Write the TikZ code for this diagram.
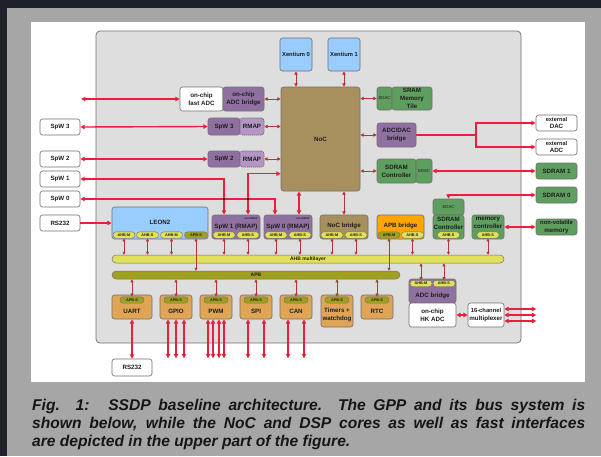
\documentclass[tikz,border=0pt]{standalone}
\usepackage{fontspec}
\setmainfont{Liberation Sans}
\usetikzlibrary{arrows.meta,calc}

\definecolor{bggray}{HTML}{A6A6A6}
\definecolor{darkedge}{HTML}{1E2128}
\definecolor{socfill}{HTML}{DEDEDE}
\definecolor{bdr}{HTML}{707070}
\definecolor{txt}{HTML}{1E1E1E}
\definecolor{xblue}{HTML}{99CCFF}
\definecolor{noctan}{HTML}{A8905E}
\definecolor{memgreen}{HTML}{5E9E5E}
\definecolor{bpurple}{HTML}{9070A0}
\definecolor{rmappurple}{HTML}{B496C4}
\definecolor{perorange}{HTML}{E0A455}
\definecolor{apborange}{HTML}{FFA500}
\definecolor{pillyel}{HTML}{E0E05A}
\definecolor{olive}{HTML}{A0A020}
\definecolor{extred}{HTML}{E8203C}
\definecolor{intred}{HTML}{B03838}
\definecolor{captxt}{HTML}{161616}

\newcommand\lblfont{\fontsize{6.2}{7.8}\selectfont\bfseries}
\newcommand\pillfont{\fontsize{3.8}{4}\selectfont\bfseries}
\newcommand\edacfont{\fontsize{4.3}{5}\selectfont}
\newcommand\tinyfont{\fontsize{2.6}{3}\selectfont\bfseries}
\newcommand\capfont{\fontsize{15.6}{18}\selectfont\bfseries\itshape}

% block from corner (x1,y1) to (x2,y2)
\newcommand\blockat[7]{%
  \pgfmathsetmacro\bxw{#4-#2}\pgfmathsetmacro\bxh{#5-#3}%
  \node[#6, minimum width=\bxw pt, minimum height=\bxh pt] (#1) at ({(#2+#4)/2},{(#3+#5)/2}) {#7};}
% bus port pill: name, centre x, centre y, width, style, text
\newcommand\pillat[6]{%
  \node[#5, minimum width=#4pt] (#1) at (#2,#3) {#6};}

\begin{document}
\begin{tikzpicture}[x=1pt,y=-1pt,
  box/.style={draw=bdr,line width=0.6pt,rounded corners=2.5pt,inner sep=0pt,align=center,text=txt,font=\lblfont},
  plainbox/.style={box,fill=white},
  bluebox/.style={box,fill=xblue},
  tanbox/.style={box,fill=noctan},
  greenbox/.style={box,fill=memgreen},
  purplebox/.style={box,fill=bpurple},
  rmapbox/.style={box,fill=rmappurple,draw=bpurple!80!black,dash pattern=on 1.2pt off 0.8pt},
  periph/.style={box,fill=perorange},
  edacbox/.style={box,fill=memgreen,font=\edacfont},
  socbox/.style={draw=bdr,line width=0.7pt,fill=socfill,rounded corners=4pt,inner sep=0pt},
  pillbase/.style={draw=bdr,line width=0.4pt,rounded corners=3pt,inner sep=0pt,minimum height=6.4pt,font=\pillfont,text=txt},
  ypill/.style={pillbase,fill=pillyel},
  opill/.style={pillbase,fill=olive},
  busbar/.style={draw=bdr,line width=0.5pt,rounded corners=4pt,inner sep=0pt,font=\fontsize{5}{5}\selectfont\bfseries,text=txt},
  ext/.style={draw=extred,line width=1.4pt,arrows={Triangle[length=4.4pt,width=4.4pt]-Triangle[length=4.4pt,width=4.4pt]}},
  extto/.style={draw=extred,line width=1.4pt,-{Triangle[length=4.4pt,width=4.4pt]}},
  extline/.style={draw=extred,line width=1.4pt},
  int/.style={draw=intred,line width=1pt,arrows={Triangle[length=3.4pt,width=3.4pt]-Triangle[length=3.4pt,width=3.4pt]}},
  bus/.style={draw=intred,line width=0.9pt,arrows={Triangle[length=3pt,width=3pt]-Triangle[length=3pt,width=3pt]}},
  junc/.style={fill=black,inner sep=0pt,minimum size=2.8pt},
  lbl/.style={inner sep=0pt,align=center,text=txt,font=\lblfont},
  captext/.style={inner sep=0pt,anchor=base west,text=captxt,font=\capfont}
]
\useasboundingbox (0,0) rectangle (601,456);
% backdrop and page
\fill[bggray] (0,0) rectangle (601,456);
\fill[darkedge] (0,0) rectangle (601,7.5);
\fill[darkedge] (0,0) rectangle (7,456);
\fill[white] (31,22) rectangle (585,382);

% chip outline
\blockat{chip}{96}{31}{521}{343}{socbox}{}

% DSP cores and network-on-chip
\blockat{xen0}{280}{38}{312}{71}{bluebox}{\fontsize{5.8}{6}\selectfont\bfseries Xentium 0}
\blockat{xen1}{328}{38}{360}{71}{bluebox}{\fontsize{5.8}{6}\selectfont\bfseries Xentium 1}
\blockat{noc}{281}{87}{360}{191}{tanbox}{NoC}

% NoC right side
\blockat{edacA}{377}{87}{392}{110}{edacbox}{EDAC}
\blockat{sram}{392}{87}{432}{110}{greenbox}{SRAM\\Memory\\Tile}
\blockat{adcdac}{377}{123}{416}{147}{purplebox}{ADC/DAC\\bridge}
\blockat{sdcA}{377}{159}{416}{183}{greenbox}{SDRAM\\Controller}
\blockat{edacB}{416}{159}{432}{183}{edacbox}{EDAC}
\blockat{extdac}{536}{115}{577}{131}{plainbox}{\fontsize{5.6}{7.6}\selectfont\bfseries external\\DAC}
\blockat{extadc}{536}{139}{577}{155}{plainbox}{\fontsize{5.6}{7.6}\selectfont\bfseries external\\ADC}
\blockat{sdram1}{536}{163}{577}{179}{greenbox}{SDRAM 1}
\blockat{sdram0}{536}{187}{577}{203}{greenbox}{SDRAM 0}
\blockat{nvm}{536}{219}{577}{235}{greenbox}{\fontsize{5.8}{7.4}\selectfont\bfseries non-volatile\\memory}

% NoC left side
\blockat{fadc}{180}{87}{223}{111}{plainbox}{on-chip\\fast ADC}
\blockat{adcbr}{223}{87}{264}{111}{purplebox}{on-chip\\ADC bridge}
\blockat{spw3}{208}{118}{240}{135}{purplebox}{SpW 3}
\blockat{rmap3}{240}{118}{264}{135}{rmapbox}{RMAP}
\blockat{spw2}{208}{151}{240}{167}{purplebox}{SpW 2}
\blockat{rmap2}{240}{151}{264}{167}{rmapbox}{RMAP}

% external links on the left
\blockat{spw3x}{40}{119}{80}{135}{plainbox}{SpW 3}
\blockat{spw2x}{40}{151}{80}{167}{plainbox}{SpW 2}
\blockat{spw1x}{40}{171}{80}{187}{plainbox}{SpW 1}
\blockat{spw0x}{40}{191}{80}{207}{plainbox}{SpW 0}
\blockat{rsa}{40}{215}{80}{231}{plainbox}{RS232}

% AHB masters and slaves
\blockat{leon}{112}{207}{208}{239}{bluebox}{}
\node[lbl] (leont) at (160,222) {LEON2};
\pillat{lp1}{124}{235}{22}{ypill}{AHB-M}
\pillat{lp2}{147.5}{235}{22}{ypill}{AHB-S}
\pillat{lp3}{171.5}{235}{22}{ypill}{AHB-M}
\pillat{lp4}{196}{235}{23}{opill}{APB-S}

\blockat{spw1r}{212}{215}{260}{239}{purplebox}{}
\node[lbl] (spw1rt) at (236,227) {SpW 1 (RMAP)};
\node[lbl,font=\tinyfont] (spw1rn) at (251,218.5) {non-RMAP};
\pillat{s1m}{224}{235}{22}{ypill}{AHB-M}
\pillat{s1s}{248}{235}{22}{ypill}{AHB-S}

\blockat{spw0r}{264}{215}{312}{239}{purplebox}{}
\node[lbl] (spw0rt) at (288,227) {SpW 0 (RMAP)};
\node[lbl,font=\tinyfont] (spw0rn) at (303,218.5) {non-RMAP};
\pillat{s0m}{276}{235}{22}{ypill}{AHB-M}
\pillat{s0s}{300}{235}{22}{ypill}{AHB-S}

\blockat{nocbr}{320}{215}{368}{239}{tanbox}{}
\node[lbl] (nocbrt) at (344,226) {NoC bridge};
\pillat{nbm}{332}{235}{22}{ypill}{AHB-M}
\pillat{nbs}{356}{235}{22}{ypill}{AHB-S}

\blockat{apbbr}{377}{215}{424}{239}{box,fill=apborange}{}
\node[lbl] (apbbrt) at (400.5,226) {APB bridge};
\pillat{abm}{389}{235}{22}{opill}{APB-M}
\pillat{abs}{412.5}{235}{22}{ypill}{AHB-S}

\blockat{edacC}{433}{199}{464}{215}{edacbox}{EDAC}
\blockat{sdcB}{433}{215}{464}{239}{greenbox}{}
\node[lbl] (sdcBt) at (448.5,223.5) {SDRAM\\Controller};
\pillat{sds}{448.5}{235}{22}{ypill}{AHB-S}

\blockat{memc}{472}{215}{504}{239}{greenbox}{}
\node[lbl] (memct) at (488,223) {memory\\controller};
\pillat{mcs}{488}{235}{22}{ypill}{AHB-S}

% buses
\blockat{ahb}{112}{255}{504}{263}{busbar,fill=pillyel}{}
\node[lbl,font=\fontsize{5}{5}\selectfont\bfseries] (ahbt) at (308,259) {AHB multilayer};
\blockat{apb}{112}{271}{400}{279}{busbar,fill=olive}{APB}

% housekeeping ADC
\blockat{adcb}{409}{279}{456}{303}{purplebox}{}
\node[lbl] (adcbt) at (432.5,296) {ADC bridge};
\pillat{adm}{421}{283.5}{22}{ypill}{AHB-M}
\pillat{ads}{444}{283.5}{22}{ypill}{AHB-S}
\blockat{hkadc}{409}{303}{456}{327}{plainbox}{on-chip\\HK ADC}
\blockat{mux}{468}{303}{504}{327}{plainbox}{\fontsize{5.8}{7.8}\selectfont\bfseries 16-channel\\multiplexer}

% APB peripherals
\blockat{uart}{112}{295}{152}{319}{periph}{}
\node[lbl] (uartt) at (132,311) {UART};
\blockat{gpio}{160}{295}{192}{319}{periph}{}
\node[lbl] (gpiot) at (176,311) {GPIO};
\blockat{pwm}{200}{295}{232}{319}{periph}{}
\node[lbl] (pwmt) at (216,311) {PWM};
\blockat{spi}{240}{295}{272}{319}{periph}{}
\node[lbl] (spit) at (256,311) {SPI};
\blockat{can}{280}{295}{312}{319}{periph}{}
\node[lbl] (cant) at (296,311) {CAN};
\blockat{timers}{321}{295}{353}{327}{periph}{}
\node[lbl] (timerst) at (337,314.5) {Timers +\\watchdog};
\blockat{rtc}{361}{295}{393}{319}{periph}{}
\node[lbl] (rtct) at (377,311) {RTC};
\pillat{pu}{132}{300}{24}{opill}{APB-S}
\pillat{pg}{176}{300}{24}{opill}{APB-S}
\pillat{pp}{216}{300}{24}{opill}{APB-S}
\pillat{ps}{256}{300}{24}{opill}{APB-S}
\pillat{pc}{296}{300}{24}{opill}{APB-S}
\pillat{pt}{337}{300}{24}{opill}{APB-S}
\pillat{pr}{377}{300}{24}{opill}{APB-S}

\blockat{rsb}{112}{359}{152}{376}{plainbox}{RS232}

% NoC internal links
\draw[int] (xen0.south) -- (xen0.south |- noc.north);
\draw[int] (xen1.south) -- (xen1.south |- noc.north);
\draw[int] (adcbr.east) -- (adcbr.east -| noc.west);
\draw[int] (rmap3.east) -- (rmap3.east -| noc.west);
\draw[int] (rmap2.east) -- (rmap2.east -| noc.west);
\draw[int] (edacA.west -| noc.east) -- (edacA.west);
\draw[int] (adcdac.west -| noc.east) -- (adcdac.west);
\draw[int] (sdcA.west -| noc.east) -- (sdcA.west);
\draw[int] (nocbr.north) -- (nocbr.north |- noc.south);

% external links
\coordinate (fadcend) at (81,99);
\draw[ext] (fadcend) -- (fadc.west);
\draw[ext] (spw3x.east) -- (spw3.west);
\draw[ext] (spw2x.east) -- (spw2.west);
\draw[ext] (spw1x.east) -| ([xshift=-12pt]spw1r.north);
\draw[ext] (spw0x.east) -| ([xshift=-13pt]spw0r.north);
\draw[ext] ($(noc.north west)+(0,87)$) -| ([xshift=12pt]spw1r.north);
\draw[ext] ([xshift=-21.5pt]noc.south) -- ([xshift=11pt]spw0r.north);
\node[junc] (j1) at (224,199) {};
\node[junc] (j2) at (248,199) {};
\draw[extto] (rsa.east) -- (leon.west);

\coordinate (dacsplit) at (476,135);
\draw[extline] (adcdac.east) -- (dacsplit);
\draw[extto] (dacsplit) |- (extdac.west);
\draw[extto] (dacsplit) |- (extadc.west);
\draw[ext] (edacB.east) -- (sdram1.west);
\draw[ext] (sdram0.west) -| (edacC.north);
\draw[ext] (memc.east) -- (nvm.west);

% bus ports
\foreach \p in {lp1,lp2,lp3,s1m,s1s,s0m,s0s,nbm,nbs,abs,sds,mcs}
  \draw[bus] (\p.south) -- (\p.south |- ahb.north);
\draw[bus] (lp4.south) -- (lp4.south |- apb.north);
\draw[bus] (abm.south) -- (abm.south |- apb.north);
\foreach \p in {adm,ads}
  \draw[bus] (\p.north) -- (\p.north |- ahb.south);
\foreach \p in {pu,pg,pp,ps,pc,pt,pr}
  \draw[bus] (\p.north) -- (\p.north |- apb.south);

% housekeeping ADC links
\draw[ext] (hkadc.east) -- (mux.west);
\foreach \dy in {-6,0,6}
  \draw[ext] ([yshift=\dy pt]mux.east) -- ++(32,0);

% peripheral pins
\draw[ext] (uart.south) -- (rsb.north);
\foreach \dx in {-8,0,8}
  \draw[ext] ([xshift=\dx pt]gpio.south) -- ++(0,39);
\foreach \dx in {-8,-3,3,8}
  \draw[ext] ([xshift=\dx pt]pwm.south) -- ++(0,39);
\foreach \dx in {-8,8}
  \draw[ext] ([xshift=\dx pt]spi.south) -- ++(0,39);
\foreach \dx in {-8,8}
  \draw[ext] ([xshift=\dx pt]can.south) -- ++(0,39);

% caption
\node[captext] (cap1) at (32,410.5) {\makebox[553pt][s]{Fig. 1:\hspace{0.4em} SSDP baseline architecture. The GPP and its bus system is}};
\node[captext] (cap2) at (32,428.5) {\makebox[553pt][s]{shown below, while the NoC and DSP cores as well as fast interfaces}};
\node[captext] (cap3) at (32,446.5) {are depicted in the upper part of the figure.};
\end{tikzpicture}
\end{document}
